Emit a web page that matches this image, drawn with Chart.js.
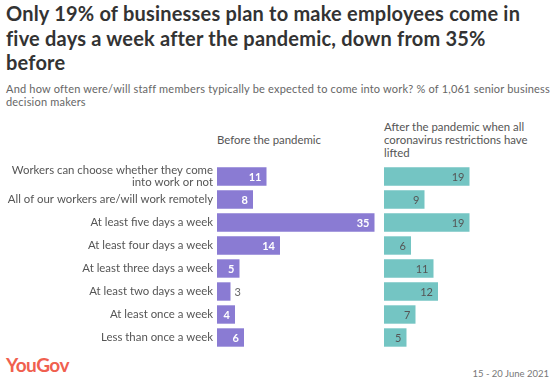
<!DOCTYPE html>
<html>
<head>
<meta charset="utf-8">
<script src="https://cdn.jsdelivr.net/npm/chart.js@4"></script>
<style>
  body { margin: 0; width: 557px; height: 385px; background: #fff; font-family: "Lato", sans-serif; position: relative; overflow: hidden; }
  .abs { position: absolute; white-space: nowrap; }
  #title { left: 6px; top: 1px; font-size: 20px; line-height: 24.5px; font-weight: 700; color: #333; letter-spacing: 0.2px; }
  #subtitle { left: 6px; top: 82px; font-size: 11px; line-height: 13px; color: #666; letter-spacing: 0.2px; }
  .head { font-size: 11.4px; line-height: 13px; color: #555; }
  #logo { left: 6px; top: 353px; font-size: 19px; font-weight: 700; color: #f0604f; letter-spacing: -0.5px; }
  #date { right: 8px; top: 368px; font-size: 9.5px; color: #777; }
</style>
</head>
<body>
<div id="title" class="abs">Only 19% of businesses plan to make employees come in<br>five days a week after the pandemic, down from 35%<br>before</div>
<div id="subtitle" class="abs">And how often were/will staff members typically be expected to come into work? % of 1,061 senior business<br>decision makers</div>
<div class="abs head" style="left:217px; top:133px;">Before the pandemic</div>
<div class="abs head" style="left:384px; top:120px;">After the pandemic when all<br>coronavirus restrictions have<br>lifted</div>
<div style="position:absolute; left:0; top:165px; width:379px; height:184px;"><canvas id="beforeChart"></canvas></div>
<div style="position:absolute; left:384px; top:165px; width:171px; height:184px;"><canvas id="afterChart"></canvas></div>
<div id="logo" class="abs">YouGov</div>
<div id="date" class="abs">15 - 20 June 2021</div>
<script>
const categories = [
  ["Workers can choose whether they come", "into work or not"],
  "All of our workers are/will work remotely",
  "At least five days a week",
  "At least four days a week",
  "At least three days a week",
  "At least two days a week",
  "At least once a week",
  "Less than once a week"
];
const beforeValues = [11, 8, 35, 14, 5, 3, 4, 6];
const afterValues = [19, 9, 19, 6, 11, 12, 7, 5];

const PURPLE = "#8a7bd3";
const TEAL = "#74c5c3";
const FONT = "Lato";

// value labels: inside the bar end if it fits, otherwise just past it
const valueLabels = {
  id: "valueLabels",
  afterDatasetsDraw(chart, args, opts) {
    const ctx = chart.ctx;
    const meta = chart.getDatasetMeta(0);
    const data = chart.data.datasets[0].data;
    ctx.save();
    ctx.font = `${opts.weight} 11px ${FONT}`;
    ctx.textBaseline = "middle";
    meta.data.forEach((bar, i) => {
      const text = String(data[i]);
      const w = ctx.measureText(text).width;
      const barW = bar.x - bar.base;
      if (barW > w + 10) {
        ctx.fillStyle = opts.inside;
        ctx.textAlign = "right";
        ctx.fillText(text, bar.x - 5, bar.y + 1);
      } else {
        ctx.fillStyle = "#666";
        ctx.textAlign = "left";
        ctx.font = `400 11px ${FONT}`;
        ctx.fillText(text, bar.x + 4, bar.y + 1);
        ctx.font = `${opts.weight} 11px ${FONT}`;
      }
    });
    ctx.restore();
  }
};

function barChart(el, values, color, max, showLabels, inside, weight) {
  return new Chart(document.getElementById(el), {
    type: "bar",
    data: {
      labels: categories,
      datasets: [{
        data: values,
        backgroundColor: color,
        barPercentage: 0.8,
        categoryPercentage: 1.0
      }]
    },
    options: {
      indexAxis: "y",
      responsive: true,
      maintainAspectRatio: false,
      animation: false,
      layout: { padding: 0 },
      plugins: {
        legend: { display: false },
        tooltip: { enabled: false },
        valueLabels: { inside, weight }
      },
      scales: {
        x: { display: false, min: 0, max },
        y: {
          display: showLabels,
          grid: { display: false, drawTicks: false },
          border: { display: false },
          ticks: {
            autoSkip: false,
            padding: 4,
            color: "#555",
            font: { family: FONT, size: 11.4, lineHeight: 1.0 }
          },
          afterFit(scale) {
            if (!showLabels) return;
            scale.width = 217;
            scale.paddingTop = 0;
            scale.paddingBottom = 0;
          }
        }
      }
    },
    plugins: [valueLabels]
  });
}

barChart("beforeChart", beforeValues, PURPLE, 36, true, "#fff", 700);
barChart("afterChart", afterValues, TEAL, 38, false, "#555", 400);
</script>
</body>
</html>
